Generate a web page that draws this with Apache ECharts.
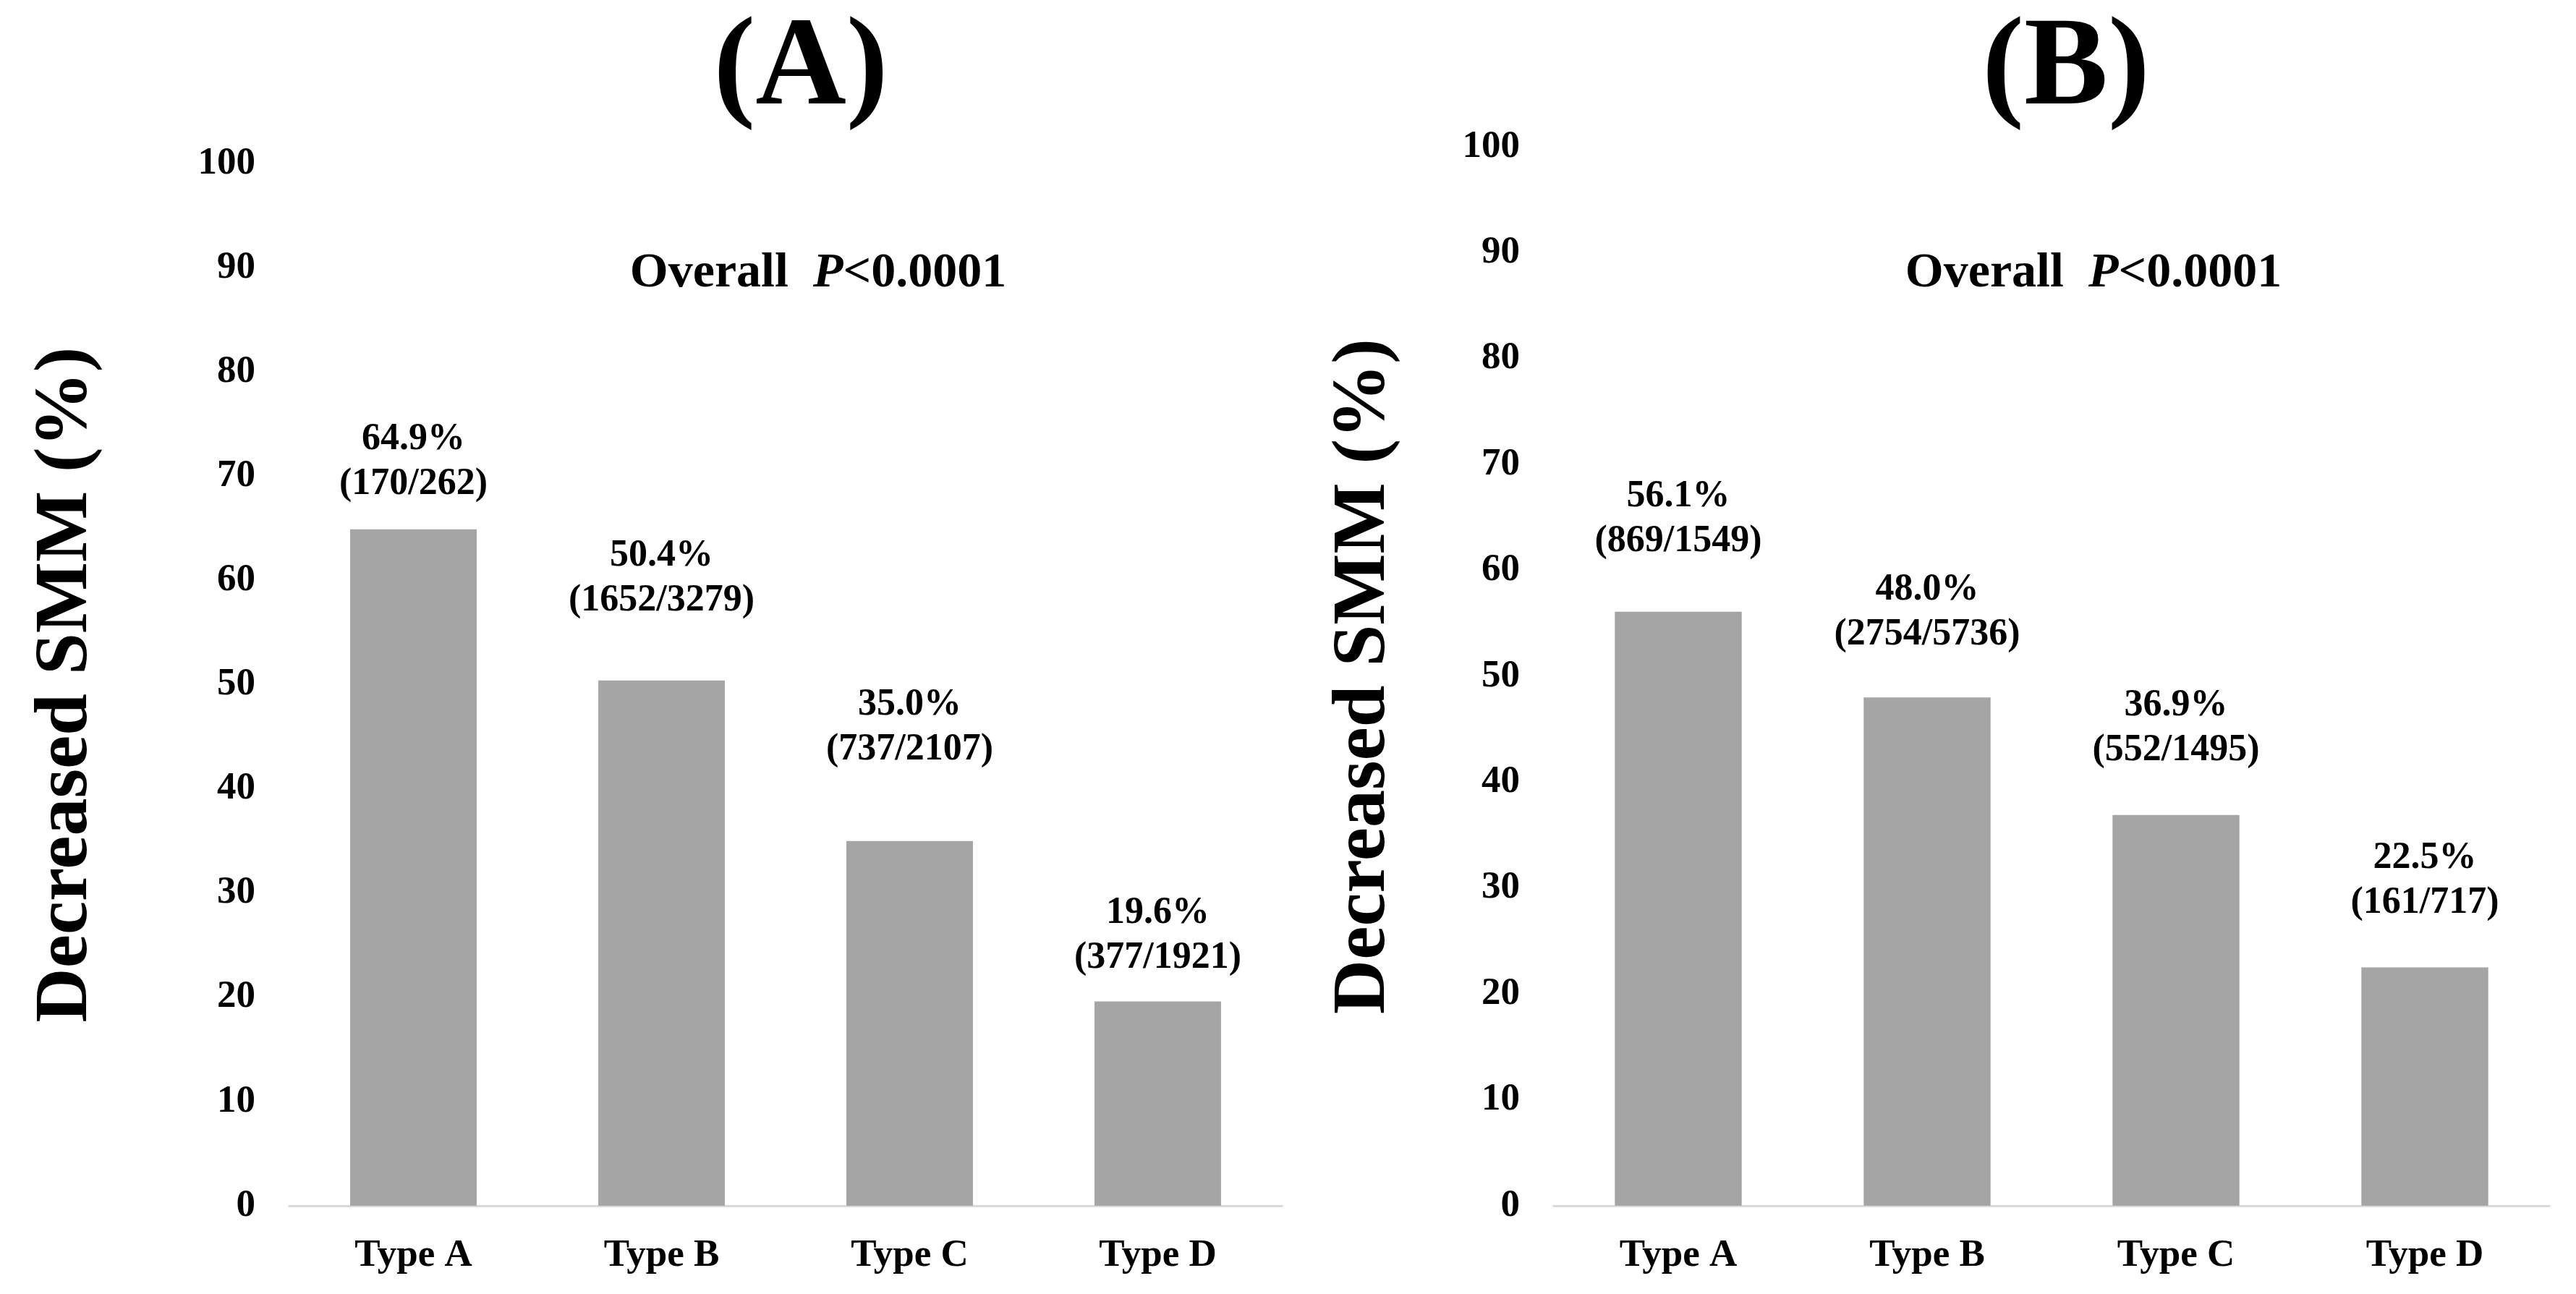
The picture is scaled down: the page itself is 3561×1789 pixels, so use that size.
<!DOCTYPE html>
<html>
<head>
<meta charset="utf-8">
<script src="https://cdn.jsdelivr.net/npm/echarts@6/dist/echarts.min.js"></script>
<style>
html,body{margin:0;padding:0;background:#fff;}
#chart{width:3561px;height:1789px;}
</style>
</head>
<body>
<div id="chart"></div>
<script>
const categories = ['Type A', 'Type B', 'Type C', 'Type D'];
const valuesA = [64.9, 50.4, 35.0, 19.6];
const countsA = ['170/262', '1652/3279', '737/2107', '377/1921'];
const valuesB = [56.1, 48.0, 36.9, 22.5];
const countsB = ['869/1549', '2754/5736', '552/1495', '161/717'];
const yMin = 0, yMax = 100, yInterval = 10;
const panelTitles = ['(A)', '(B)'];
const axisTitle = 'Decreased SMM (%)';
const pText = ['Overall  ', 'P', '<0.0001'];

const FONT = "'Times New Roman', 'Liberation Serif', serif";
const BAR = '#A5A5A5';
// label gaps above bars (style only, as placed in the original figure)
const labelGapA = [31, 79, 95, 29];
const labelGapB = [66, 56, 58, 58];

const chart = echarts.init(document.getElementById('chart'), null, {renderer: 'canvas'});

function xAxisCfg(gi) {
  return {
    type: 'category', gridIndex: gi, data: categories,
    axisLine: {show: true, lineStyle: {color: '#D9D9D9', width: 3}},
    axisTick: {show: false},
    axisLabel: {fontFamily: FONT, fontWeight: 'bold', fontSize: 53, color: '#000', margin: 43}
  };
}
function yAxisCfg(gi, gap) {
  return {
    type: 'value', gridIndex: gi, min: yMin, max: yMax, interval: yInterval,
    name: axisTitle, nameLocation: 'middle', nameRotate: 90, nameGap: gap,
    nameTextStyle: {fontFamily: FONT, fontWeight: 'bold', fontSize: 104, color: '#000'},
    axisLine: {show: false}, axisTick: {show: false}, splitLine: {show: false},
    axisLabel: {fontFamily: FONT, fontWeight: 'bold', fontSize: 53, color: '#000', margin: 47,
      padding: [22, 0, 0, 0]}
  };
}
function barSeries(gi, vals, counts, gaps) {
  return {
    type: 'bar', xAxisIndex: gi, yAxisIndex: gi,
    data: vals.map((v, i) => ({value: v, label: {distance: gaps[i]}})),
    barWidth: '51%',
    itemStyle: {color: BAR},
    label: {
      show: true, position: 'top',
      fontFamily: FONT, fontWeight: 'bold', fontSize: 52, lineHeight: 62, color: '#000',
      formatter: p => p.value.toFixed(1) + '%\n(' + counts[p.dataIndex] + ')'
    }
  };
}
function overallText(cx, cy) {
  return {
    type: 'text', x: cx, y: cy,
    style: {
      text: '{b|' + pText[0] + '}{i|' + pText[1] + '}{b|' + pText[2] + '}',
      align: 'center', verticalAlign: 'middle',
      rich: {
        b: {fontFamily: FONT, fontWeight: 'bold', fontSize: 68, fill: '#000'},
        i: {fontFamily: FONT, fontWeight: 'bold', fontStyle: 'italic', fontSize: 68, fill: '#000'}
      }
    }
  };
}
function panelText(txt, cx, cy) {
  return {
    type: 'text', x: cx, y: cy,
    style: {text: txt, align: 'center', verticalAlign: 'middle',
      fontFamily: FONT, fontWeight: 'bold', fontSize: 174, fill: '#000'}
  };
}

chart.setOption({
  backgroundColor: '#fff',
  animation: false,
  grid: [
    {left: 400, top: 226, width: 1372, height: 1441},
    {left: 2148, top: 203, width: 1376, height: 1464}
  ],
  xAxis: [xAxisCfg(0), xAxisCfg(1)],
  yAxis: [yAxisCfg(0, 256), yAxisCfg(1, 210)],
  series: [barSeries(0, valuesA, countsA, labelGapA), barSeries(1, valuesB, countsB, labelGapB)],
  graphic: [
    panelText(panelTitles[0], 1107, 98),
    panelText(panelTitles[1], 2856, 98),
    overallText(1131, 378),
    overallText(2894, 378)
  ]
});
</script>
</body>
</html>
